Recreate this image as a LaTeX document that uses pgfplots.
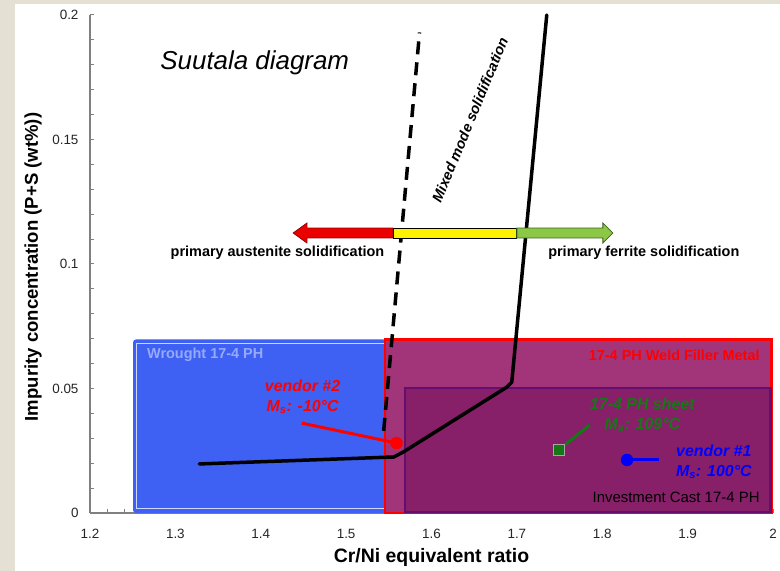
\documentclass[border=0pt]{standalone}
\usepackage{pgfplots}
\pgfplotsset{compat=1.18}
\usepackage{fontspec}
\setmainfont{Liberation Sans}
\definecolor{bgbeige}{RGB}{228,224,212}
\definecolor{boxblue}{RGB}{62,96,243}
\definecolor{weldfill}{RGB}{162,52,122}
\definecolor{castfill}{RGB}{135,32,104}
\definecolor{castborder}{RGB}{100,14,110}
\definecolor{arrred}{RGB}{235,0,0}
\definecolor{arrredd}{RGB}{150,0,0}
\definecolor{arrgreen}{RGB}{140,200,70}
\definecolor{arrgreend}{RGB}{60,100,30}
\definecolor{txtgreen}{RGB}{20,120,20}
\definecolor{wroughttxt}{RGB}{150,170,250}
\begin{document}
\begin{tikzpicture}
\useasboundingbox (0,0) rectangle (780bp,571bp);
\fill[bgbeige] (0,0) rectangle (780bp,571bp);
\fill[white] (15bp,0) rectangle (780bp,567bp);
\begin{axis}[
  at={(90bp,58bp)}, anchor=south west,
  scale only axis, width=683bp, height=498bp,
  xmin=1.2, xmax=2, ymin=0, ymax=0.2,
  axis x line*=bottom, axis y line*=left,
  axis line style={gray, line width=1.8bp},
  xtick={1.2,1.3,1.4,1.5,1.6,1.7,1.8,1.9,2},
  xticklabels={1.2,1.3,1.4,1.5,1.6,1.7,1.8,1.9,2},
  ytick={0,0.05,0.1,0.15,0.2},
  yticklabels={0,0.05,0.1,0.15,0.2},
  minor x tick num=4, minor y tick num=4,
  tick align=inside,
  major tick length=4bp, minor tick length=4bp,
  tick style={gray, line width=1bp},
  ticklabel style={font=\fontsize{13.5}{13.5}\selectfont, text=black!85},
  xticklabel style={yshift=-13bp},
  yticklabel style={xshift=-8bp},
  xlabel={Cr/Ni equivalent ratio},
  ylabel={Impurity concentration (P+S (wt\%))},
  xlabel style={font=\bfseries\fontsize{19.5}{19.5}\selectfont, at={(axis description cs:0.5,0)}, anchor=center, yshift=-44bp},
  ylabel style={font=\bfseries\fontsize{18.6}{18.6}\selectfont, at={(axis description cs:0,0.5)}, anchor=center, yshift=57bp, xshift=-3bp},
  clip=false,
]
% boxes
\addplot[draw=none, fill=boxblue, rounded corners=3bp] coordinates {(1.2504,0) (1.2504,0.0697) (1.547,0.0697) (1.547,0)} -- cycle;
\addplot[draw=white, opacity=0.75, line width=0.6bp] coordinates {(1.2545,0.0018) (1.2545,0.0680) (1.545,0.0680) (1.545,0.0018)} -- cycle;
\addplot[draw=red, line width=2.5bp, fill=weldfill] coordinates {(1.5454,0) (1.5454,0.0697) (1.998,0.0697) (1.998,0)} -- cycle;
\addplot[draw=castborder, line width=2.2bp, fill=castfill] coordinates {(1.569,0.0005) (1.569,0.0502) (1.997,0.0502) (1.997,0.0005)} -- cycle;
% boundaries
\addplot[black, line width=3.5bp, line cap=round, line join=round] coordinates {(1.328,0.0197) (1.556,0.0225) (1.567,0.0245) (1.688,0.0505) (1.694,0.0525) (1.735,0.2)};
\addplot[black, line width=3.5bp, dash pattern=on 13bp off 8bp] coordinates {(1.544,0.033) (1.586,0.193)};
% arrows
\addplot[draw=arrredd, line width=0.8bp, fill=arrred] coordinates {(1.438,0.11245) (1.4541,0.11645) (1.4541,0.11445) (1.555,0.11445) (1.555,0.11045) (1.4541,0.11045) (1.4541,0.10845)} -- cycle;
\addplot[draw=black, line width=0.8bp, fill=yellow] coordinates {(1.555,0.11045) (1.555,0.11445) (1.7,0.11445) (1.7,0.11045)} -- cycle;
\addplot[draw=arrgreend, line width=0.8bp, fill=arrgreen] coordinates {(1.7,0.11045) (1.7,0.11445) (1.8007,0.11445) (1.8007,0.11645) (1.8124,0.11245) (1.8007,0.10845) (1.8007,0.11045)} -- cycle;
% samples
\addplot[red, line width=3bp] coordinates {(1.448,0.0361) (1.559,0.0281)};
\addplot[only marks, mark=*, mark size=6bp, red] coordinates {(1.559,0.0281)};
\addplot[txtgreen, line width=3bp] coordinates {(1.785,0.0353) (1.749,0.0253)};
\addplot[only marks, mark=square*, mark size=5.5bp, mark options={fill=txtgreen, draw=gray!70, line width=1.2bp}] coordinates {(1.749,0.0253)};
\addplot[blue, line width=3bp] coordinates {(1.829,0.0213) (1.867,0.0213)};
\addplot[only marks, mark=*, mark size=6bp, blue] coordinates {(1.829,0.0213)};
% texts
\node[font=\itshape\fontsize{26}{26}\selectfont] at (axis cs:1.393,0.1807) {Suutala diagram};
\node[font=\bfseries\fontsize{14.5}{14.5}\selectfont] at (axis cs:1.4196,0.1044) {primary austenite solidification};
\node[font=\bfseries\fontsize{14.5}{14.5}\selectfont] at (axis cs:1.8487,0.1044) {primary ferrite solidification};
\node[font=\bfseries\itshape\fontsize{14.5}{14.5}\selectfont, rotate=67.5] at (axis cs:1.645,0.1578) {Mixed mode solidification};
\node[font=\bfseries\fontsize{14.5}{14.5}\selectfont, text=wroughttxt, anchor=west, inner sep=0pt] at (axis cs:1.2667,0.0635) {Wrought 17-4 PH};
\node[font=\bfseries\fontsize{14.5}{14.5}\selectfont, text=red, anchor=east, inner sep=0pt] at (axis cs:1.9845,0.0635) {17-4 PH Weld Filler Metal};
\node[font=\fontsize{15}{15}\selectfont, text=black, anchor=east, inner sep=0pt] at (axis cs:1.9845,0.0064) {Investment Cast 17-4 PH};
\node[font=\bfseries\itshape\fontsize{16}{20}\selectfont, text=red, align=center, inner sep=0pt] at (axis cs:1.449,0.0466) {vendor \#2\\M\textsubscript{s}: -10°C};
\node[font=\bfseries\itshape\fontsize{16}{20}\selectfont, text=txtgreen, align=center, inner sep=0pt] at (axis cs:1.847,0.0394) {17-4 PH sheet\\M\textsubscript{s}: 109°C};
\node[font=\bfseries\itshape\fontsize{16}{20}\selectfont, text=blue, align=center, inner sep=0pt] at (axis cs:1.9307,0.0205) {vendor \#1\\M\textsubscript{s}: 100°C};
\end{axis}
\end{tikzpicture}
\end{document}
